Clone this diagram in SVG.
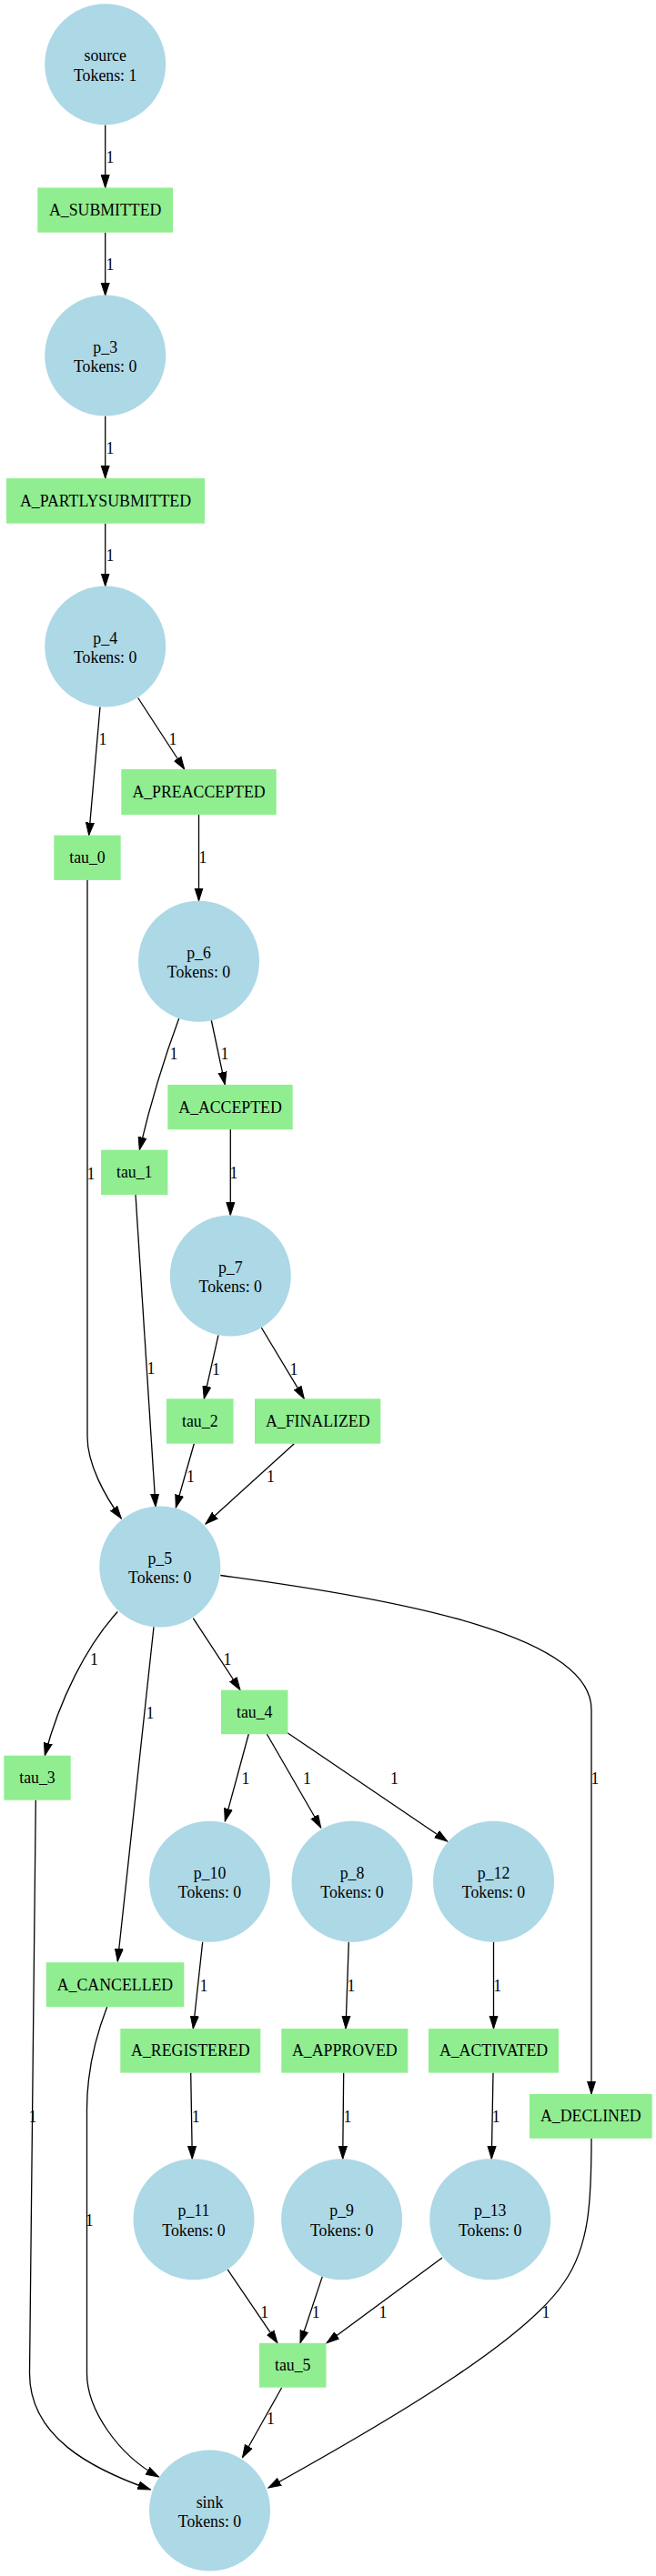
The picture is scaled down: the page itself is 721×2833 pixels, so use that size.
<svg xmlns="http://www.w3.org/2000/svg" width="721" height="2833" viewBox="0 0 721 2833">
<style>
text{font-family:"Liberation Serif","Times New Roman",serif;font-size:17.8px;fill:#000;text-anchor:middle}
.pl ellipse{fill:#add8e6}
.tr rect{fill:#90ee90}
.e path{fill:none;stroke:#000;stroke-width:1.3;marker-end:url(#ah)}
</style>
<defs>
<marker id="ah" markerUnits="userSpaceOnUse" markerWidth="15" markerHeight="11" refX="14" refY="5.5" orient="auto" viewBox="0 0 15 11">
<path d="M0,1 L14,5.5 L0,10 Z" fill="#000" stroke="#000" stroke-width="1"/>
</marker>
</defs>
<rect width="721" height="2833" fill="#fff"/>
<g id="edges" class="e">
<path d="M115.7,137.5 L115.7,206.4"/>
<path d="M115.7,255.7 L115.7,325"/>
<path d="M115.7,457.5 L115.7,526"/>
<path d="M115.7,575.7 L115.7,644.6"/>
<path d="M110,777.5 L97.7,918.6"/>
<path d="M151.7,767.5 L202.7,846"/>
<path d="M218.5,896 L218.5,990.7"/>
<path d="M96,967.5 L96,1580 C96,1610 115,1645 133.3,1670"/>
<path d="M196.7,1120 C180,1165 165,1215 153.3,1264.6"/>
<path d="M232.3,1122 L247.3,1192.9"/>
<path d="M253.3,1241.8 L253.3,1336.4"/>
<path d="M149,1314 L171,1657"/>
<path d="M240,1468.3 L224.3,1538.3"/>
<path d="M287.3,1460 L334.3,1538.3"/>
<path d="M213.3,1587.7 L193.3,1658"/>
<path d="M323.3,1587.7 L226,1676"/>
<path d="M129.3,1772.5 C95,1810 65,1870 49.3,1930.7"/>
<path d="M169,1789.3 L129.3,2157"/>
<path d="M212.3,1779.6 L264,1858.6"/>
<path d="M242.3,1732.5 C450,1760 650,1800 650,1880 L650,2302.9"/>
<path d="M273.3,1907 L247.3,2002.9"/>
<path d="M293.3,1907 L352.7,2010"/>
<path d="M316,1905.7 L491.7,2025"/>
<path d="M39.3,1979.6 L32.5,2610 C32.5,2680 100,2715 165.4,2738"/>
<path d="M117.7,2207 C105,2240 95.5,2280 95.5,2320 L95.5,2610 C95.5,2650 130,2700 174.4,2724"/>
<path d="M222.7,2135.7 L212.3,2231"/>
<path d="M383.3,2135.7 L380,2231"/>
<path d="M542.5,2135.7 L542.5,2231"/>
<path d="M650,2351.8 C650,2420 648,2470 620,2510 C580,2570 450,2650 295,2736"/>
<path d="M209.7,2279.6 L211.3,2374.3"/>
<path d="M377.7,2279.6 L376.7,2374.3"/>
<path d="M542,2279.6 L540.3,2374.3"/>
<path d="M250,2495.7 L305,2576.8"/>
<path d="M354.3,2503.6 L330,2576.8"/>
<path d="M486,2482.9 L359,2576.8"/>
<path d="M309.7,2625.7 L266.5,2702.7"/>
</g>
<g id="edge-labels">
<text x="121" y="179">1</text>
<text x="121" y="297">1</text>
<text x="121" y="499">1</text>
<text x="121" y="617">1</text>
<text x="113" y="819">1</text>
<text x="190" y="819">1</text>
<text x="223" y="949">1</text>
<text x="100" y="1297">1</text>
<text x="191" y="1165">1</text>
<text x="247" y="1165">1</text>
<text x="257" y="1296">1</text>
<text x="166" y="1511">1</text>
<text x="237.5" y="1512">1</text>
<text x="323" y="1512">1</text>
<text x="209.5" y="1629.5">1</text>
<text x="297.5" y="1629.5">1</text>
<text x="103.5" y="1831">1</text>
<text x="165" y="1890">1</text>
<text x="250" y="1831">1</text>
<text x="654" y="1962">1</text>
<text x="270" y="1962">1</text>
<text x="337.5" y="1962">1</text>
<text x="433.5" y="1962">1</text>
<text x="36" y="2334">1</text>
<text x="98.3" y="2448">1</text>
<text x="224" y="2190">1</text>
<text x="386" y="2190">1</text>
<text x="546.7" y="2190">1</text>
<text x="600" y="2549">1</text>
<text x="215.3" y="2334">1</text>
<text x="382" y="2334">1</text>
<text x="545.3" y="2334">1</text>
<text x="290.7" y="2549">1</text>
<text x="347.3" y="2549">1</text>
<text x="421" y="2549">1</text>
<text x="297.5" y="2666">1</text>
</g>
<g id="source" class="pl"><ellipse cx="115.7" cy="70.7" rx="66.5" ry="66.5"/><text x="115.7" y="67.2">source</text><text x="115.7" y="88.7">Tokens: 1</text></g>
<g id="p_3" class="pl"><ellipse cx="115.7" cy="391" rx="66.5" ry="66.5"/><text x="115.7" y="387.5">p_3</text><text x="115.7" y="409">Tokens: 0</text></g>
<g id="p_4" class="pl"><ellipse cx="115.7" cy="711" rx="66.5" ry="66.5"/><text x="115.7" y="707.5">p_4</text><text x="115.7" y="729">Tokens: 0</text></g>
<g id="p_6" class="pl"><ellipse cx="218.5" cy="1057.3" rx="66.5" ry="66.5"/><text x="218.5" y="1053.8">p_6</text><text x="218.5" y="1075.3">Tokens: 0</text></g>
<g id="p_7" class="pl"><ellipse cx="253.3" cy="1403" rx="66.5" ry="66.5"/><text x="253.3" y="1399.5">p_7</text><text x="253.3" y="1421">Tokens: 0</text></g>
<g id="p_5" class="pl"><ellipse cx="175.8" cy="1723" rx="66.5" ry="66.5"/><text x="175.8" y="1719.5">p_5</text><text x="175.8" y="1741">Tokens: 0</text></g>
<g id="p_10" class="pl"><ellipse cx="230.5" cy="2069.3" rx="66.5" ry="66.5"/><text x="230.5" y="2065.8">p_10</text><text x="230.5" y="2087.3">Tokens: 0</text></g>
<g id="p_8" class="pl"><ellipse cx="387" cy="2069.3" rx="66.5" ry="66.5"/><text x="387" y="2065.8">p_8</text><text x="387" y="2087.3">Tokens: 0</text></g>
<g id="p_12" class="pl"><ellipse cx="542.5" cy="2069.3" rx="66.5" ry="66.5"/><text x="542.5" y="2065.8">p_12</text><text x="542.5" y="2087.3">Tokens: 0</text></g>
<g id="p_11" class="pl"><ellipse cx="213" cy="2440.7" rx="66.5" ry="66.5"/><text x="213" y="2437.2">p_11</text><text x="213" y="2458.7">Tokens: 0</text></g>
<g id="p_9" class="pl"><ellipse cx="375.6" cy="2440.7" rx="66.5" ry="66.5"/><text x="375.6" y="2437.2">p_9</text><text x="375.6" y="2458.7">Tokens: 0</text></g>
<g id="p_13" class="pl"><ellipse cx="538.7" cy="2440.7" rx="66.5" ry="66.5"/><text x="538.7" y="2437.2">p_13</text><text x="538.7" y="2458.7">Tokens: 0</text></g>
<g id="sink" class="pl"><ellipse cx="230.5" cy="2761" rx="66.5" ry="66.5"/><text x="230.5" y="2757.5">sink</text><text x="230.5" y="2779">Tokens: 0</text></g>
<g id="A_SUBMITTED" class="tr"><rect x="41.3" y="206.4" width="148.7" height="49.3"/><text x="115.7" y="237">A_SUBMITTED</text></g>
<g id="A_PARTLYSUBMITTED" class="tr"><rect x="7" y="526" width="218" height="49.7"/><text x="116" y="557">A_PARTLYSUBMITTED</text></g>
<g id="tau_0" class="tr"><rect x="59.3" y="918.6" width="73.4" height="49.3"/><text x="96" y="949.2">tau_0</text></g>
<g id="A_PREACCEPTED" class="tr"><rect x="133.3" y="846" width="170.4" height="50"/><text x="218.5" y="877">A_PREACCEPTED</text></g>
<g id="A_ACCEPTED" class="tr"><rect x="184.3" y="1192.9" width="137.4" height="49.3"/><text x="253" y="1223.5">A_ACCEPTED</text></g>
<g id="tau_1" class="tr"><rect x="111" y="1264.6" width="73.4" height="49.4"/><text x="147.7" y="1295.3">tau_1</text></g>
<g id="tau_2" class="tr"><rect x="183" y="1538.3" width="73.5" height="49.4"/><text x="219.8" y="1569">tau_2</text></g>
<g id="A_FINALIZED" class="tr"><rect x="280" y="1538.3" width="138.3" height="49.4"/><text x="349.2" y="1569">A_FINALIZED</text></g>
<g id="tau_3" class="tr"><rect x="4.3" y="1930.7" width="73.4" height="49"/><text x="41" y="1961.2">tau_3</text></g>
<g id="tau_4" class="tr"><rect x="243" y="1858.6" width="73.4" height="48.6"/><text x="279.7" y="1889">tau_4</text></g>
<g id="A_CANCELLED" class="tr"><rect x="50.7" y="2158.2" width="151.6" height="49"/><text x="126.5" y="2188.7">A_CANCELLED</text></g>
<g id="A_REGISTERED" class="tr"><rect x="132.3" y="2231" width="154" height="48.6"/><text x="209.3" y="2261.3">A_REGISTERED</text></g>
<g id="A_APPROVED" class="tr"><rect x="309.3" y="2231" width="139" height="48.6"/><text x="378.8" y="2261.3">A_APPROVED</text></g>
<g id="A_ACTIVATED" class="tr"><rect x="471" y="2231" width="143" height="48.6"/><text x="542.5" y="2261.3">A_ACTIVATED</text></g>
<g id="A_DECLINED" class="tr"><rect x="582" y="2302.9" width="134.7" height="48.9"/><text x="649.3" y="2333.4">A_DECLINED</text></g>
<g id="tau_5" class="tr"><rect x="285" y="2576.8" width="73.5" height="48.9"/><text x="321.7" y="2607.3">tau_5</text></g>
</svg>
